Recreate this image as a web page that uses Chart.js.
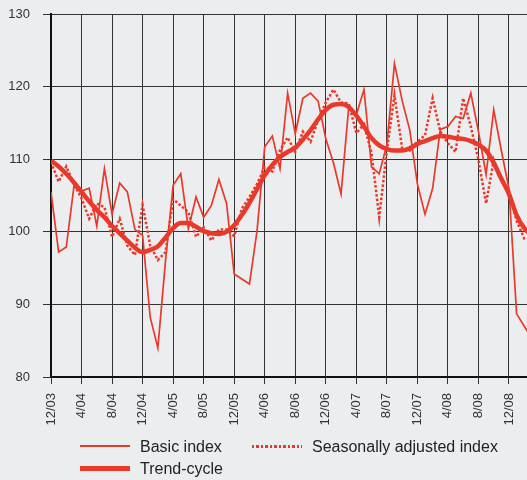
<!DOCTYPE html>
<html>
<head>
<meta charset="utf-8">
<script src="https://cdn.jsdelivr.net/npm/chart.js@4/dist/chart.umd.min.js"></script>
<style>
  html, body { margin: 0; padding: 0; background: #ECEDEF; }
  #wrap { position: relative; width: 527px; height: 480px; overflow: hidden; }
  #c { position: absolute; left: 0; top: 0; }
  .lg { position: absolute; font-family: 'Liberation Sans', Arial, sans-serif; font-size: 16px; color: #222; line-height: 18px; white-space: nowrap; }
  .sw { position: absolute; width: 50px; }
</style>
</head>
<body>
<div id="wrap">
  <canvas id="c" width="527" height="480"></canvas>
  <div class="sw" style="left:80px; top:445px; height:2px; background:#E8392A;"></div>
  <div class="lg" style="left:140px; top:438px;">Basic index</div>
  <div class="sw" style="left:252px; top:445px; height:2.5px; background: repeating-linear-gradient(90deg, #E8392A 0 2.5px, transparent 2.5px 4.5px);"></div>
  <div class="lg" style="left:312px; top:438px;">Seasonally adjusted index</div>
  <div class="sw" style="left:80px; top:466px; height:4.5px; background:#E8392A;"></div>
  <div class="lg" style="left:140px; top:460px;">Trend-cycle</div>
</div>
<script>
// Months from 12/03 onwards (index = months since 12/03)
const months = ['12/03','1/04','2/04','3/04','4/04','5/04','6/04','7/04','8/04','9/04','10/04','11/04',
  '12/04','1/05','2/05','3/05','4/05','5/05','6/05','7/05','8/05','9/05','10/05','11/05',
  '12/05','1/06','2/06','3/06','4/06','5/06','6/06','7/06','8/06','9/06','10/06','11/06',
  '12/06','1/07','2/07','3/07','4/07','5/07','6/07','7/07','8/07','9/07','10/07','11/07',
  '12/07','1/08','2/08','3/08','4/08','5/08','6/08','7/08','8/08','9/08','10/08','11/08',
  '12/08','1/09','2/09','3/09'];

const xTickLabels = ['12/03','4/04','8/04','12/04','4/05','8/05','12/05','4/06','8/06','12/06','4/07','8/07','12/07','4/08','8/08','12/08'];
const yTicks = [80, 90, 100, 110, 120, 130];

const basicIndex = [105.5, 97.2, 97.9, 106.2, 105.6, 106.0, 100.8, 108.7, 102.4, 106.7, 105.5, 100.3,
  99.5, 88.2, 84.0, 96.0, 106.4, 108.0, 100.4, 104.8, 102.0, 103.6, 107.2, 103.9,
  94.2, 93.5, 92.8, 100.2, 111.7, 113.2, 108.7, 119.1, 113.5, 118.4, 119.1, 118.0,
  112.8, 109.5, 105.2, 117.1, 116.1, 119.6, 108.9, 108.0, 112.0, 123.2, 118.1, 114.0,
  106.6, 102.4, 106.0, 114.1, 114.5, 115.9, 115.6, 119.1, 113.8, 107.9, 116.8, 111.2,
  105.9, 88.7, 87.0, 85.3];

const seasonallyAdjusted = [109.6, 106.9, 109.0, 106.6, 104.6, 101.8, 103.9, 103.4, 99.3, 101.8, 98.1, 96.8,
  103.7, 98.1, 96.1, 97.2, 104.5, 103.6, 102.7, 99.3, 100.6, 98.8, 100.3, 100.3,
  99.4, 103.2, 104.8, 106.6, 108.9, 108.3, 111.2, 113.0, 111.0, 113.8, 112.4, 115.4,
  117.8, 119.6, 117.8, 117.7, 113.6, 114.8, 110.8, 102.0, 111.2, 118.8, 111.5, 111.2,
  112.4, 113.3, 118.4, 113.8, 112.2, 111.0, 118.4, 114.5, 109.9, 103.9, 109.9, 107.1,
  105.7, 101.5, 99.1, 99.2];

const trendCycle = [109.8, 109.0, 108.0, 106.8, 105.5, 104.2, 103.0, 102.0, 100.8, 99.8, 98.8, 97.8,
  97.2, 97.5, 98.0, 99.2, 100.5, 101.2, 101.2, 100.7, 100.1, 99.8, 99.7, 100.0,
  100.9, 102.3, 104.0, 105.9, 107.8, 109.2, 110.3, 111.0, 111.6, 112.7, 114.0, 115.5,
  116.8, 117.5, 117.6, 117.2, 116.0, 114.5, 112.9, 111.9, 111.4, 111.2, 111.2, 111.5,
  112.1, 112.5, 112.9, 113.2, 113.1, 112.9, 112.8, 112.5, 112.0, 111.2, 109.5, 107.3,
  105.2, 102.3, 100.5, 99.5];

const RED = '#E8392A';
const toPts = arr => arr.map((v, i) => ({ x: i, y: v }));

new Chart(document.getElementById('c'), {
  type: 'line',
  data: {
    datasets: [
      { label: 'Trend-cycle', data: toPts(trendCycle), borderColor: RED, borderWidth: 4.5,
        pointRadius: 0, cubicInterpolationMode: 'monotone', order: 0, borderJoinStyle: 'round' },
      { label: 'Basic index', data: toPts(basicIndex), borderColor: RED, borderWidth: 1.7,
        pointRadius: 0, tension: 0, order: 1 },
      { label: 'Seasonally adjusted index', data: toPts(seasonallyAdjusted), borderColor: RED,
        borderWidth: 2.5, borderDash: [2.5, 2], borderCapStyle: 'butt', pointRadius: 0, tension: 0, order: 2 }
    ]
  },
  options: {
    responsive: false,
    animation: false,
    events: [],
    layout: { padding: { top: 14, right: 0, left: 0, bottom: 0 } },
    plugins: { legend: { display: false }, tooltip: { enabled: false } },
    scales: {
      x: {
        type: 'linear',
        min: 0,
        max: 62.36,
        afterFit: s => { s.height = 103; s.paddingLeft = 0; s.paddingRight = 0; },
        grid: { color: '#333', lineWidth: 1, tickLength: 7, drawTicks: true },
        border: { color: '#111', width: 2 },
        ticks: {
          stepSize: 4,
          includeBounds: false,
          autoSkip: false,
          minRotation: 90,
          maxRotation: 90,
          padding: 9,
          color: '#333',
          font: { family: "'Liberation Sans', Arial, sans-serif", size: 13 },
          callback: v => xTickLabels[Math.round(v / 4)]
        }
      },
      y: {
        min: yTicks[0],
        max: yTicks[yTicks.length - 1],
        afterFit: s => { s.width = 51; s.paddingTop = 0; s.paddingBottom = 0; },
        grid: { color: '#333', lineWidth: 1, tickLength: 8, drawTicks: true },
        border: { color: '#111', width: 2 },
        ticks: {
          stepSize: 10,
          padding: 13,
          color: '#333',
          font: { family: "'Liberation Sans', Arial, sans-serif", size: 13 }
        }
      }
    }
  }
});
</script>
</body>
</html>
